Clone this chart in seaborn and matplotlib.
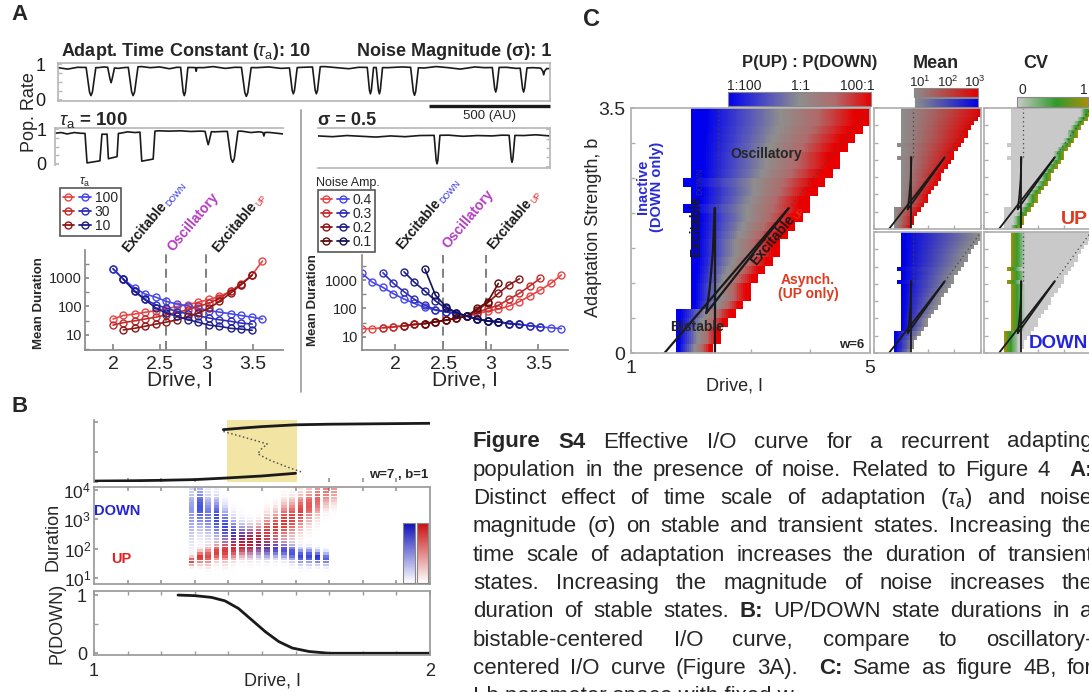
"""Figure S4: effective I/O curve for a recurrent adapting population with noise."""

import matplotlib
matplotlib.use("Agg")
import matplotlib.pyplot as plt
import numpy as np
import seaborn as sns
from matplotlib.cm import ScalarMappable
from matplotlib.colors import LinearSegmentedColormap, ListedColormap, Normalize
from matplotlib.legend_handler import HandlerTuple
from matplotlib.lines import Line2D
from matplotlib.ticker import FixedLocator, NullFormatter, NullLocator

W, H = 1089, 692

# ---------------- Panel A: population-rate traces (time in AU) ----------------
top_base_t = [0, 40, 80, 165, 190, 250, 270, 345, 380, 420, 460, 490, 600, 640, 690, 730, 820, 870,
              920, 1010, 1100, 1150, 1200, 1240, 1360, 1420, 1510, 1560, 1610, 1660, 1720, 1760,
              1850, 1890, 1960, 2030]
top_base_v = [0.9, 0.86, 0.91, 0.9, 0.92, 0.88, 0.9, 0.93, 0.9, 0.92, 0.87, 0.91, 0.9, 0.93, 0.88,
              0.91, 0.9, 0.92, 0.88, 0.91, 0.93, 0.9, 0.87, 0.91, 0.9, 0.92, 0.89, 0.93, 0.9, 0.86,
              0.92, 0.9, 0.91, 0.88, 0.9, 0.87]
top_dip_t = [136, 219, 310, 521, 570, 777, 971, 1066, 1289, 1326, 1471, 1806, 1921, 2004]
top_dip_hw = [20, 14, 20, 15, 10, 20, 16, 16, 13, 13, 16, 14, 14, 12]
top_dip_depth = [0.12, 0.48, 0.12, 0.12, 0.8, 0.1, 0.17, 0.17, 0.17, 0.17, 0.13, 0.22, 0.22, 0.7]

tau_base_t = [0, 25, 50, 80, 105, 205, 270, 300, 330, 430, 470, 520, 560, 600, 660, 690, 770,
              810, 840, 890, 942]
tau_base_v = [0.88, 0.9, 0.86, 0.9, 0.88, 0.85, 0.88, 0.92, 0.9, 0.95, 0.94, 0.95, 0.93, 0.94,
              0.92, 0.93, 0.94, 0.9, 0.92, 0.9, 0.86]
tau_dip_start = [124, 215, 351, 620, 712, 850]
tau_dip_end = [194, 262, 413, 646, 756, 876]
tau_dip_depth = [0.03, 0.15, 0.08, 0.55, 0.05, 0.8]
tau_dip_shape = ["U", "U", "U", "V", "V", "V"]

sig_base_t = [0, 60, 120, 180, 240, 300, 360, 420, 540, 600, 660, 720, 760, 850, 900, 959]
sig_base_v = [0.82, 0.8, 0.83, 0.81, 0.79, 0.82, 0.8, 0.83, 0.84, 0.81, 0.83, 0.82, 0.84, 0.83,
              0.85, 0.82]
sig_dip_t = [492, 802]
sig_dip_hw = [12, 12]
sig_dip_depth = [0.08, 0.12]
scale_bar_au = 500

# ---------------- Panel A: mean durations ----------------
tau_drive = [2.0, 2.11, 2.23, 2.34, 2.46, 2.57, 2.69, 2.8, 2.91, 3.03, 3.14, 3.26, 3.37, 3.49, 3.6]
tau_levels = ["100", "30", "10"]
tau_start = [0, 0, 1]
tau_down = [[2100, 910, 450, 275, 210, 150, 120, 105, 87, 71, 63, 55, 48, 42, 36],
            [2100, 910, 355, 175, 115, 87, 66, 55, 47, 39, 34, 30, 26, 24],
            [910, 340, 175, 87, 58, 45, 34, 28, 22, 20, 17, 16, 14.5]]
tau_up = [[36, 48, 54, 62, 71, 83, 100, 115, 140, 175, 225, 340, 575, 1300, 3900],
          [22, 27, 31, 36, 42, 51, 62, 76, 100, 130, 195, 340, 620, 1250],
          [15, 17, 20, 24, 28, 34, 45, 58, 87, 150, 295, 575, 1250]]
tau_bounds = [2.57, 3.0]

noise_drive = [1.65, 1.76, 1.87, 1.98, 2.09, 2.2, 2.31, 2.42, 2.53, 2.64, 2.75, 2.86, 2.97, 3.08,
               3.19, 3.3, 3.41, 3.52, 3.63, 3.74]
noise_levels = ["0.4", "0.3", "0.2", "0.1"]
noise_start = [0, 2, 4, 6]
noise_down = [[1700, 830, 550, 330, 215, 150, 110, 87, 76, 66, 54, 42, 36, 34, 29.5, 27.5, 24.5,
               22.5, 21, 19.5],
              [1800, 760, 390, 210, 130, 91, 76, 66, 54, 42, 36, 34, 29.5, 27.5, 24.5, 22.5],
              [1950, 830, 410, 185, 100, 71, 54, 42, 36, 34, 29.5, 27.5],
              [2450, 295, 115, 71, 54, 42, 36, 34]]
noise_up = [[19.5, 19.5, 21, 22.5, 24.5, 27.5, 29.5, 34, 39, 45, 54, 66, 81, 95, 120, 175, 275,
             445, 760, 1500],
            [21, 22.5, 24.5, 27.5, 29.5, 34, 39, 45, 54, 72, 100, 130, 210, 340, 620, 1150],
            [24.5, 27.5, 29.5, 34, 39, 45, 54, 87, 160, 340, 670, 1100],
            [29.5, 34, 39, 45, 54, 100, 175, 760]]
noise_bounds = [2.5, 2.95]

# ---------------- Panel B ----------------
io_low_x = [1.0, 1.1, 1.2, 1.3, 1.39, 1.5, 1.6]
io_low_y = [0.016, 0.02, 0.028, 0.04, 0.065, 0.1, 0.145]
io_high_x = [1.385, 1.45, 1.5, 1.6, 1.7, 1.8, 1.9, 2.0]
io_high_y = [0.87, 0.9, 0.92, 0.95, 0.96, 0.965, 0.97, 0.975]
io_mid_x = [1.385, 1.43, 1.48, 1.516, 1.5, 1.487, 1.52, 1.57, 1.62]
io_mid_y = [0.84, 0.77, 0.69, 0.63, 0.56, 0.47, 0.37, 0.26, 0.16]
bistable_range = [1.395, 1.605]

dur_drive = [1.29, 1.315, 1.34, 1.365, 1.39, 1.415, 1.44, 1.465, 1.49, 1.515, 1.54, 1.565, 1.59,
             1.615, 1.64, 1.665, 1.69, 1.715]
down_logc = [3.2, 3.4, 3.13, 3.03, 2.73, 2.47, 2.37, 2.27, 2.2, 2.07, 2.03, 1.97, 1.87, 1.74, 1.74,
             1.7, 1.65, 1.65]
down_logs = [0.6, 0.5, 0.45, 0.45, 0.4, 0.35, 0.3, 0.3, 0.28, 0.25, 0.22, 0.2, 0.2, 0.18, 0.18,
             0.15, 0.15, 0.15]
down_amp = [0.45, 0.75, 0.6, 0.8, 0.8, 0.85, 0.85, 0.85, 0.85, 0.8, 0.8, 0.75, 0.75, 0.8, 0.8, 0.9,
            0.7, 0.0]
up_logc = [1.57, 1.7, 1.74, 1.87, 1.92, 2.03, 2.14, 2.24, 2.37, 2.57, 2.73, 2.9, 3.03, 3.24, 3.46,
           3.69, 3.95, 4.0]
up_logs = [0.1, 0.15, 0.2, 0.2, 0.25, 0.25, 0.25, 0.28, 0.3, 0.35, 0.35, 0.4, 0.4, 0.4, 0.4, 0.4,
           0.35, 0.3]
up_amp = [0.8, 0.85, 0.75, 0.8, 0.8, 0.8, 0.85, 0.85, 0.8, 0.8, 0.85, 0.85, 0.8, 0.8, 0.7, 0.65,
          0.55, 0.45]

pdown_drive = [1.25, 1.3, 1.35, 1.39, 1.43, 1.47, 1.51, 1.55, 1.59, 1.64, 1.7, 1.8, 2.0]
pdown = [1.0, 0.99, 0.96, 0.9, 0.77, 0.57, 0.37, 0.2, 0.09, 0.03, 0.0, 0.0, 0.0]

# ---------------- Panel C: I-b parameter space (rows of 0.125 in b) ----------------
c_left = [1.75, 1.75, 1.75, 1.75, 1.75, 2.0, 2.0, 2.0, 2.0, 2.0, 2.0, 2.0, 2.0, 2.0, 2.0, 2.0,
          1.875, 2.0, 2.0, 1.875, 2.0, 2.0, 2.0, 2.0, 2.0, 2.0, 2.0, 2.0]
c_right = [2.375, 2.5, 2.5, 2.625, 2.75, 2.875, 3.0, 3.0, 3.125, 3.25, 3.375, 3.5, 3.5, 3.625,
           3.75, 3.875, 4.0, 4.0, 4.125, 4.25, 4.375, 4.5, 4.5, 4.625, 4.75, 4.875, 5.0, 5.0]
bif_diag_x, bif_diag_b = [1.56, 3.64], [0.0, 2.07]
bif_inner_x, bif_inner_b = [2.26, 3.64], [0.57, 2.07]
bif_vert_x, bif_vert_b = [2.4, 2.4], [0.0, 2.07]
bif_cusp_x, bif_cusp_b = [2.26, 2.32, 2.37, 2.4], [0.57, 0.95, 1.45, 2.07]
dot_vert_x, dot_vert_b = [2.45, 2.45], [2.07, 3.5]
dot_diag_x, dot_diag_b = [3.64, 5.0], [2.07, 3.5]

caption_lines = [
    ["*Figure", "*S4", "Effective", "I/O", "curve", "for", "a", "recurrent", "adapting"],
    ["population", "in", "the", "presence", "of", "noise.", "Related", "to", "Figure", "4", "", "*A:"],
    ["Distinct", "effect", "of", "time", "scale", "of", "adaptation", r"($\tau_{\rm a}$)", "and", "noise"],
    ["magnitude", "(σ)", "on", "stable", "and", "transient", "states.", "Increasing", "the"],
    ["time", "scale", "of", "adaptation", "increases", "the", "duration", "of", "transient"],
    ["states.", "Increasing", "the", "magnitude", "of", "noise", "increases", "the"],
    ["duration", "of", "stable", "states.", "*B:", "UP/DOWN", "state", "durations", "in", "a"],
    ["bistable-centered", "I/O", "curve,", "compare", "to", "oscillatory-"],
    ["centered", "I/O", "curve", "(Figure", "3A).", "", "*C:", "Same", "as", "figure", "4B,", "for"],
]
caption_last = "I-b parameter space with fixed w."

RED = ["#e84545", "#c42c2c", "#8e1616", "#5e0b0b"]
BLUE = ["#4848ea", "#2e2eb8", "#1e1e88", "#111158"]

sns.set_theme(style="ticks")
plt.rcParams["font.family"] = ["Liberation Sans", "DejaVu Sans"]
plt.rcParams.update({
    "mathtext.fontset": "custom",
    "mathtext.rm": "Liberation Sans",
    "mathtext.it": "Liberation Sans:italic",
    "mathtext.bf": "Liberation Sans:bold",
    "xtick.direction": "in",
    "ytick.direction": "in",
})

fig = plt.figure(figsize=(W / 100, H / 100), dpi=100)
renderer = fig.canvas.get_renderer()


def add_ax(x0, y0, x1, y1):
    return fig.add_axes([x0 / W, 1 - y1 / H, (x1 - x0) / W, (y1 - y0) / H])


def ftext(x, y, s, **kw):
    return fig.text(x / W, 1 - y / H, s, **kw)


def text_width(s, size, weight="normal"):
    if not s:
        return 0.0
    t = fig.text(0, 0, s, fontsize=size, fontweight=weight)
    w = t.get_window_extent(renderer=renderer).width
    t.remove()
    return w


def rot_label(x, y, main, sub="", sub_color="k", color="k", angle=50, size=10):
    X, Y = x, H - y
    fig.text(X / W, Y / H, main, rotation=angle, rotation_mode="anchor", ha="left",
             va="baseline", fontsize=size, fontweight="bold", color=color)
    if sub:
        w = text_width(main, size, "bold")
        a = np.deg2rad(angle)
        sx = X + (w + 1) * np.cos(a) + 2.5 * np.sin(a)
        sy = Y + (w + 1) * np.sin(a) - 2.5 * np.cos(a)
        fig.text(sx / W, sy / H, sub, rotation=angle, rotation_mode="anchor", ha="left",
                 va="baseline", fontsize=size * 0.62, color=sub_color)


def trace_xy(base_t, base_v, starts, ends, depths, shapes):
    pts = [(t, v) for t, v in zip(base_t, base_v)
           if not any(s - 6 <= t <= e + 6 for s, e in zip(starts, ends))]
    for s, e, d, shape in zip(starts, ends, depths, shapes):
        w = e - s
        b0, b1 = np.interp(s, base_t, base_v), np.interp(e, base_t, base_v)
        if shape == "U":
            pts += [(s, b0), (s + 0.12 * w, d), (s + 0.5 * w, d + 0.03),
                    (e - 0.12 * w, d + 0.06), (e, b1)]
        else:
            pts += [(s, b0), (s + 0.35 * w, d + 0.1), (s + 0.5 * w, d),
                    (e - 0.35 * w, d + 0.1), (e, b1)]
    pts.sort()
    return [p[0] for p in pts], [p[1] for p in pts]


def trace_style(ax, xmax, spines, side="left", labels=True, pad=6):
    ax.set_xlim(0, xmax)
    ax.set_ylim(-0.03, 1.03)
    for s in ["left", "right", "top", "bottom"]:
        ax.spines[s].set_visible(s in spines)
        ax.spines[s].set_color("#b8b8b8")
    ax.set_xticks([])
    ax.set_yticks([0, 1])
    ax.set_yticklabels(["0", "1"] if labels else [])
    ax.set_yticks([0.25, 0.5, 0.75], minor=True)
    if side == "right":
        ax.yaxis.tick_right()
    ax.tick_params(axis="y", which="both", colors="#b8b8b8", labelcolor="k", labelsize=13,
                   length=3, pad=pad)
    ax.patch.set_alpha(0)


# ======================= Panel A =======================
ftext(20, 15, "A", fontsize=16, fontweight="bold", ha="center", va="center")

ax_top = add_ax(58, 63, 550, 101)
starts = [t - h for t, h in zip(top_dip_t, top_dip_hw)]
ends = [t + h for t, h in zip(top_dip_t, top_dip_hw)]
tx, ty = trace_xy(top_base_t, top_base_v, starts, ends, top_dip_depth, ["V"] * len(starts))
sns.lineplot(x=tx, y=ty, ax=ax_top, color="k", linewidth=1.2, estimator=None, sort=False)
trace_style(ax_top, 2030, ["left", "right", "top", "bottom"], pad=9)
ax_top.plot([2030 - scale_bar_au, 2030], [-0.17, -0.17], color="k", lw=2.4, clip_on=False,
            solid_capstyle="butt")
ax_top.text(2030 - scale_bar_au / 2, -0.45, f"{scale_bar_au} (AU)", ha="center", va="center",
            fontsize=9.5)
ftext(61, 56, r"Adapt. Time Constant ($\tau_{\rm a}$): 10", fontsize=13, fontweight="bold",
      ha="left", va="baseline")
ftext(357, 56, "Noise Magnitude (σ): 1", fontsize=13, fontweight="bold", ha="left",
      va="baseline")

ax_tau = add_ax(55, 128, 283, 165)
starts_s = [t - h for t, h in zip(sig_dip_t, sig_dip_hw)]
ends_s = [t + h for t, h in zip(sig_dip_t, sig_dip_hw)]
tx, ty = trace_xy(tau_base_t, tau_base_v, tau_dip_start, tau_dip_end, tau_dip_depth, tau_dip_shape)
sns.lineplot(x=tx, y=ty, ax=ax_tau, color="k", linewidth=1.2, estimator=None, sort=False)
trace_style(ax_tau, 942, ["left", "top"], pad=6)
ftext(59, 125, r"$\tau_{\rm a}$ = 100", fontsize=13.5, fontweight="bold", ha="left",
      va="baseline")

ax_sig = add_ax(318, 128, 550, 168)
tx, ty = trace_xy(sig_base_t, sig_base_v, starts_s, ends_s, sig_dip_depth, ["V", "V"])
sns.lineplot(x=tx, y=ty, ax=ax_sig, color="k", linewidth=1.2, estimator=None, sort=False)
trace_style(ax_sig, 959, ["right", "top", "bottom"], side="right", labels=False)
ftext(318, 125, "σ = 0.5", fontsize=13, fontweight="bold", ha="left", va="baseline")

ftext(29, 112, "Pop. Rate", fontsize=13, rotation=90, ha="center", va="center")
fig.add_artist(Line2D([301 / W, 301 / W], [1 - 110 / H, 1 - 392 / H], color="#9a9a9a", lw=1.2))


def duration_axes(ax, drive, starts, downs, ups, xlim, ylim, bounds, pad_y):
    ax.set_yscale("log")
    for i in range(len(downs)):
        for vals, col in ((ups[i], RED[i]), (downs[i], BLUE[i])):
            xs = drive[starts[i]:starts[i] + len(vals)]
            sns.lineplot(x=xs, y=vals, ax=ax, color=col, marker="o", markersize=5,
                         markerfacecolor="none", markeredgecolor=col, markeredgewidth=1.0,
                         linewidth=1.2, estimator=None, sort=False)
    for b in bounds:
        ax.axvline(b, color="#777777", ls=(0, (5, 3)), lw=1.3, zorder=0)
    ax.set_xlim(*xlim)
    ax.set_ylim(*ylim)
    ax.set_xticks([2, 2.5, 3, 3.5])
    ax.set_xticklabels(["2", "2.5", "3", "3.5"])
    ax.xaxis.set_minor_locator(NullLocator())
    ax.set_yticks([10, 100, 1000])
    ax.set_yticklabels(["10", "100", "1000"])
    ax.yaxis.set_minor_locator(FixedLocator([10 ** 0.5, 10 ** 1.5, 10 ** 2.5, 10 ** 3.5]))
    ax.yaxis.set_minor_formatter(NullFormatter())
    ax.tick_params(axis="x", labelsize=14, pad=4, length=4, color="#888888")
    ax.tick_params(axis="y", which="both", labelsize=10.5, pad=pad_y, length=3, color="#888888")
    sns.despine(ax=ax)
    for s in ["left", "bottom"]:
        ax.spines[s].set_color("#8a8a8a")
    ax.patch.set_alpha(0)


ax_dt = add_ax(85, 250, 283, 350)
duration_axes(ax_dt, tau_drive, tau_start, tau_down, tau_up, (1.7, 3.82),
              (10 ** 0.47, 10 ** 3.98), tau_bounds, pad_y=2)
ax_dn = add_ax(362, 255, 568, 350)
duration_axes(ax_dn, noise_drive, noise_start, noise_down, noise_up, (1.65, 3.81),
              (10 ** 0.54, 10 ** 3.88), noise_bounds, pad_y=3)

for xc, yc in ((39, 303), (313, 300)):
    ftext(xc, yc, "Mean Duration", fontsize=9.5, fontweight="bold", rotation=90, ha="center",
          va="center")
ftext(180, 380, "Drive, I", fontsize=15, ha="center", va="center")
ftext(465, 380, "Drive, I", fontsize=15, ha="center", va="center")


def pair_legend(ax, labels, x0, y0, title, tx, ty, tsize):
    handles = []
    for i in range(len(labels)):
        handles.append(tuple(Line2D([], [], color=c, marker="o", mfc="none", mec=c, ms=5, lw=1.3)
                             for c in (RED[i], BLUE[i])))
    leg = ax.legend(handles, labels, handler_map={tuple: HandlerTuple(ndivide=None, pad=0.4)},
                    loc="upper left", bbox_to_anchor=(x0 / W, 1 - y0 / H),
                    bbox_transform=fig.transFigure, frameon=True, fancybox=False, fontsize=10,
                    handlelength=2.0, handletextpad=0.3, borderpad=0.2, labelspacing=0.0,
                    borderaxespad=0)
    leg.get_frame().set_edgecolor("k")
    leg.get_frame().set_linewidth(1.1)
    ftext(tx, ty, title, fontsize=tsize, ha="center", va="center")


pair_legend(ax_dt, tau_levels, 60, 188, r"$\tau_{\rm a}$", 85, 182, 9)
pair_legend(ax_dn, noise_levels, 318, 190, "Noise Amp.", 348, 183, 9)

# rotated regime labels
rot_label(128, 253, "Excitable", "DOWN", "#3030e0")
rot_label(173, 252, "Oscillatory", color="#b43cc0")
rot_label(218, 253, "Excitable", "UP", "#e03030")
rot_label(402, 250, "Excitable", "DOWN", "#3030e0")
rot_label(448, 249, "Oscillatory", color="#b43cc0")
rot_label(493, 250, "Excitable", "UP", "#e03030")

# ======================= Panel B =======================
ftext(20, 407, "B", fontsize=16, fontweight="bold", ha="center", va="center")

ax_io = add_ax(94, 420, 430, 482)
ax_io.axvspan(*bistable_range, color="#f2e4a2", lw=0)
sns.lineplot(x=io_low_x, y=io_low_y, ax=ax_io, color="k", linewidth=2.0, estimator=None, sort=False)
sns.lineplot(x=io_high_x, y=io_high_y, ax=ax_io, color="k", linewidth=2.0, estimator=None,
             sort=False)
sns.lineplot(x=io_mid_x, y=io_mid_y, ax=ax_io, color="#555555", linewidth=1.1, linestyle=":",
             estimator=None, sort=False)
ax_io.set_xlim(1, 2)
ax_io.set_ylim(0, 1.03)
for s in ["right", "top", "bottom"]:
    ax_io.spines[s].set_visible(False)
ax_io.spines["left"].set_color("#9a9a9a")
ax_io.set_yticks([0, 0.5, 1])
ax_io.set_yticklabels([])
ax_io.set_xticks(np.arange(1.1, 2.0, 0.1))
ax_io.set_xticklabels([])
ax_io.tick_params(axis="both", length=3, color="#9a9a9a")
ax_io.text(0.995, 0.02, "w=7 , b=1", transform=ax_io.transAxes, ha="right", va="bottom",
           fontsize=9.5, fontweight="bold")
ax_io.patch.set_alpha(0)

ax_du = add_ax(94, 487, 430, 584)
ax_du.set_yscale("log")
# histogram bins in log10(duration), drawn as stripes with a thin gap between them
bin_lo = np.arange(0.8, 4.1, 0.1)
stripe_edges = np.sort(np.concatenate([bin_lo, bin_lo + 0.075]))
bin_mid = bin_lo + 0.0375
ramp = np.linspace(0, 1, 256)
blue_alpha = ListedColormap(np.column_stack([np.full(256, 0.05), np.full(256, 0.1),
                                             np.full(256, 0.82), ramp]))
red_alpha = ListedColormap(np.column_stack([np.full(256, 0.85), np.full(256, 0.06),
                                            np.full(256, 0.06), ramp]))
for cs, ss, aa, cmap in ((down_logc, down_logs, down_amp, blue_alpha),
                         (up_logc, up_logs, up_amp, red_alpha)):
    for x, c, s, a in zip(dur_drive, cs, ss, aa):
        dens = a * np.exp(-0.5 * ((bin_mid - c) / s) ** 2)
        stripes = np.full(2 * len(dens) - 1, np.nan)
        stripes[::2] = dens
        ax_du.pcolormesh([x - 0.0085, x + 0.0085], 10 ** stripe_edges,
                         np.ma.masked_invalid(stripes)[:, None], cmap=cmap, vmin=0, vmax=1,
                         shading="flat")
ax_du.set_xlim(1, 2)
ax_du.set_ylim(10 ** 0.8, 10 ** 4.1)
ax_du.set_yticks([10, 100, 1000, 10000])
ax_du.set_yticklabels([r"$10^{1}$", r"$10^{2}$", r"$10^{3}$", r"$10^{4}$"])
ax_du.yaxis.set_minor_locator(NullLocator())
ax_du.set_xticks(np.arange(1.1, 2.0, 0.1))
ax_du.set_xticklabels([])
ax_du.tick_params(axis="x", top=True, length=3, color="#9a9a9a")
ax_du.tick_params(axis="y", labelsize=12.5, pad=2, length=3, color="#9a9a9a")
for s in ax_du.spines.values():
    s.set_color("#9a9a9a")
ax_du.text(1.07, 10 ** 3.27, "DOWN", color="#2424d0", fontsize=10.5, fontweight="bold",
           ha="center", va="center")
ax_du.text(1.08, 10 ** 1.65, "UP", color="#e02020", fontsize=10.5, fontweight="bold",
           ha="center", va="center")

white_blue = LinearSegmentedColormap.from_list("wb", ["#ffffff", "#1010b8"])
white_red = LinearSegmentedColormap.from_list("wr", ["#ffffff", "#c81010"])
for (x0, x1), cmap in (((403, 415), white_blue), ((417, 428), white_red)):
    cax = add_ax(x0, 523, x1, 583)
    cb = fig.colorbar(ScalarMappable(Normalize(0, 1), cmap), cax=cax)
    cb.set_ticks([])
    cb.outline.set_edgecolor("#888888")
    cb.outline.set_linewidth(0.8)

ax_pd = add_ax(94, 591, 430, 655)
sns.lineplot(x=pdown_drive, y=pdown, ax=ax_pd, color="k", linewidth=2.0, estimator=None, sort=False)
ax_pd.set_xlim(1, 2)
ax_pd.set_ylim(-0.03, 1.07)
ax_pd.set_yticks([0, 1])
ax_pd.set_yticklabels(["0", "1"])
ax_pd.set_yticks([0.5], minor=True)
ax_pd.set_xticks([1, 2])
ax_pd.set_xticklabels(["1", "2"])
ax_pd.set_xticks(np.arange(1.1, 2.0, 0.1), minor=True)
ax_pd.tick_params(axis="both", which="both", top=True, length=3, color="#9a9a9a", labelsize=13)
ax_pd.tick_params(axis="y", pad=5)
ax_pd.tick_params(axis="x", pad=6)
for s in ax_pd.spines.values():
    s.set_color("#9a9a9a")

ftext(53, 537, "Duration", fontsize=13, rotation=90, ha="center", va="center")
ftext(57, 623, "P(DOWN)", fontsize=13, rotation=90, ha="center", va="center")
ftext(272, 681, "Drive, I", fontsize=13, ha="center", va="center")

# ======================= Panel C =======================
ftext(591, 19, "C", fontsize=17, fontweight="bold", ha="center", va="center")

# fine columns in drive, rows of 0.125 in b; region boundaries from c_left / c_right
x_edges = np.linspace(1, 5, 129)
b_edges = np.linspace(0, 3.5, 29)
x_mid = (x_edges[:-1] + x_edges[1:]) / 2
L = np.array(c_left)[:, None]
R = np.array(c_right)[:, None]
inside = (x_mid[None, :] > L) & (x_mid[None, :] < R)
frac = (x_mid[None, :] - L) / (R - L)

ratio_cmap = LinearSegmentedColormap.from_list(
    "ratio", [(0, "#0000ec"), (0.25, "#4a4ac4"), (0.5, "#8e8e8e"), (0.75, "#b06a6a"),
              (1, "#e80000")])
mean_up_cmap = LinearSegmentedColormap.from_list("mup", ["#8c8c8c", "#e20000"])
mean_dn_cmap = LinearSegmentedColormap.from_list("mdn", ["#8c8c8c", "#0000e4"])
cv_cmap = LinearSegmentedColormap.from_list("cv", [(0, "#c9c9c9"), (0.55, "#2f9a2a"),
                                                   (1, "#a88f0a")])

fields = {
    "ratio": np.clip(-2.4 + 4.8 * frac, -2, 2),
    "mean_up": np.clip(frac, 0, 1) ** 1.3,
    "mean_dn": np.clip(1.05 - 1.1 * frac, 0, 1),
    "cv_up": np.clip(1 - (R - x_mid[None, :]) / 0.4, 0, 1),
    "cv_dn": np.clip(1 - (x_mid[None, :] - L) / 0.55, 0, 1),
}


def c_lines(ax, lw):
    for xs, bs in ((bif_diag_x, bif_diag_b), (bif_inner_x, bif_inner_b), (bif_vert_x, bif_vert_b),
                   (bif_cusp_x, bif_cusp_b)):
        sns.lineplot(x=xs, y=bs, ax=ax, color="k", linewidth=lw, estimator=None, sort=False)
    for xs, bs in ((dot_vert_x, dot_vert_b), (dot_diag_x, dot_diag_b)):
        sns.lineplot(x=xs, y=bs, ax=ax, color="#444444", linewidth=0.9, linestyle=(0, (1, 2.5)),
                     estimator=None, sort=False)


def c_map(ax, key, cmap, vmin, vmax, lw):
    ax.pcolormesh(x_edges, b_edges, np.ma.masked_where(~inside, fields[key]), cmap=cmap,
                  vmin=vmin, vmax=vmax, shading="flat")
    c_lines(ax, lw)
    ax.set_xlim(1, 5)
    ax.set_ylim(0, 3.5)
    for s in ax.spines.values():
        s.set_color("#b0b0b0")
    ax.set_xticks([1, 5])
    ax.set_xticks([2, 3, 4], minor=True)
    ax.set_yticks([0, 3.5])
    ax.set_yticks([0.5, 1, 1.5, 2, 2.5, 3], minor=True)
    ax.tick_params(axis="both", which="both", length=3, color="#b0b0b0")


ax_c = add_ax(631, 108, 870, 353)
c_map(ax_c, "ratio", ratio_cmap, -2, 2, 1.6)
ax_c.set_xticklabels(["1", "5"])
ax_c.set_yticklabels(["0", "3.5"])
ax_c.tick_params(axis="both", labelsize=14)
ax_c.tick_params(axis="x", pad=5)
ax_c.tick_params(axis="y", pad=4)

minis = [((874, 108, 981, 229), "mean_up", mean_up_cmap),
         ((874, 232, 981, 353), "mean_dn", mean_dn_cmap),
         ((984, 108, 1091, 229), "cv_up", cv_cmap),
         ((984, 232, 1091, 353), "cv_dn", cv_cmap)]
for box, key, cmap in minis:
    axm = add_ax(*box)
    c_map(axm, key, cmap, 0, 1, 1.3)
    axm.set_xticklabels([])
    axm.set_yticklabels([])

ftext(594, 227, "Adaptation Strength, b", fontsize=13, rotation=90, ha="center", va="center")
ftext(735, 386, "Drive, I", fontsize=13, ha="center", va="center")

ftext(766, 154, "Oscillatory", fontsize=10, fontweight="bold", ha="center", va="center")
ftext(650, 187, "Inactive\n(DOWN only)", fontsize=10.5, fontweight="bold", color="#2a2ad8",
      rotation=90, ha="center", va="center", linespacing=1.0)
ftext(808, 287, "Asynch.\n(UP only)", fontsize=10, fontweight="bold", color="#e03a20",
      ha="center", va="center", linespacing=1.05)
ftext(697, 327, "Bistable", fontsize=10, fontweight="bold", ha="center", va="center")
ftext(864, 345, "w=6", fontsize=9.5, fontweight="bold", ha="right", va="center")
rot_label(700, 257, "Excitable", "DOWN", "#2a2a80", angle=90)
rot_label(756, 266, "Excitable", "UP", "#e03a20", angle=50)
ftext(1088, 220, "UP", fontsize=14, fontweight="bold", color="#e03a20", ha="right", va="center")
ftext(1088, 343, "DOWN", fontsize=13.5, fontweight="bold", color="#2424e0", ha="right",
      va="center")

ftext(810, 63, "P(UP) : P(DOWN)", fontsize=12, fontweight="bold", ha="center", va="center")
ftext(936, 63, "Mean", fontsize=13, fontweight="bold", ha="center", va="center")
ftext(1036, 63, "CV", fontsize=13, fontweight="bold", ha="center", va="center")


def hbar(box, cmap):
    cax = add_ax(*box)
    cb = fig.colorbar(ScalarMappable(Normalize(0, 1), cmap), cax=cax, orientation="horizontal")
    cb.set_ticks([])
    cb.outline.set_edgecolor("#888888")
    cb.outline.set_linewidth(0.8)


hbar((728, 92, 871, 106), ratio_cmap)
hbar((914, 88, 978, 97), mean_up_cmap)
hbar((915, 98, 978, 107), mean_dn_cmap)
hbar((1017, 97, 1088, 107), cv_cmap)
for x, s in ((744, "1:100"), (801, "1:1"), (857, "100:1")):
    ftext(x, 86, s, fontsize=10, ha="center", va="center")
for x, s in ((920, r"$10^{1}$"), (948, r"$10^{2}$"), (975, r"$10^{3}$")):
    ftext(x, 82, s, fontsize=9.5, ha="center", va="center")
ftext(1022, 90, "0", fontsize=10, ha="center", va="center")
ftext(1084, 90, "1", fontsize=10, ha="center", va="center")

# ======================= Caption (justified) =======================
cap_left, cap_right, cap_top, cap_step, cap_size = 473, 1093, 442, 28.3, 16
for i, line in enumerate(caption_lines):
    words = [(w.lstrip("*"), "bold" if w.startswith("*") else "normal") for w in line]
    widths = [text_width(w, cap_size, wt) for w, wt in words]
    gap = (cap_right - cap_left - sum(widths)) / (len(words) - 1)
    x = cap_left
    y = cap_top + i * cap_step
    for (w, wt), wd in zip(words, widths):
        if w:
            ftext(x, y, w, fontsize=cap_size, fontweight=wt, ha="left", va="center")
        x += wd + gap
ftext(cap_left, cap_top + len(caption_lines) * cap_step, caption_last, fontsize=cap_size,
      ha="left", va="center")

fig.savefig("out.png", dpi=100)
